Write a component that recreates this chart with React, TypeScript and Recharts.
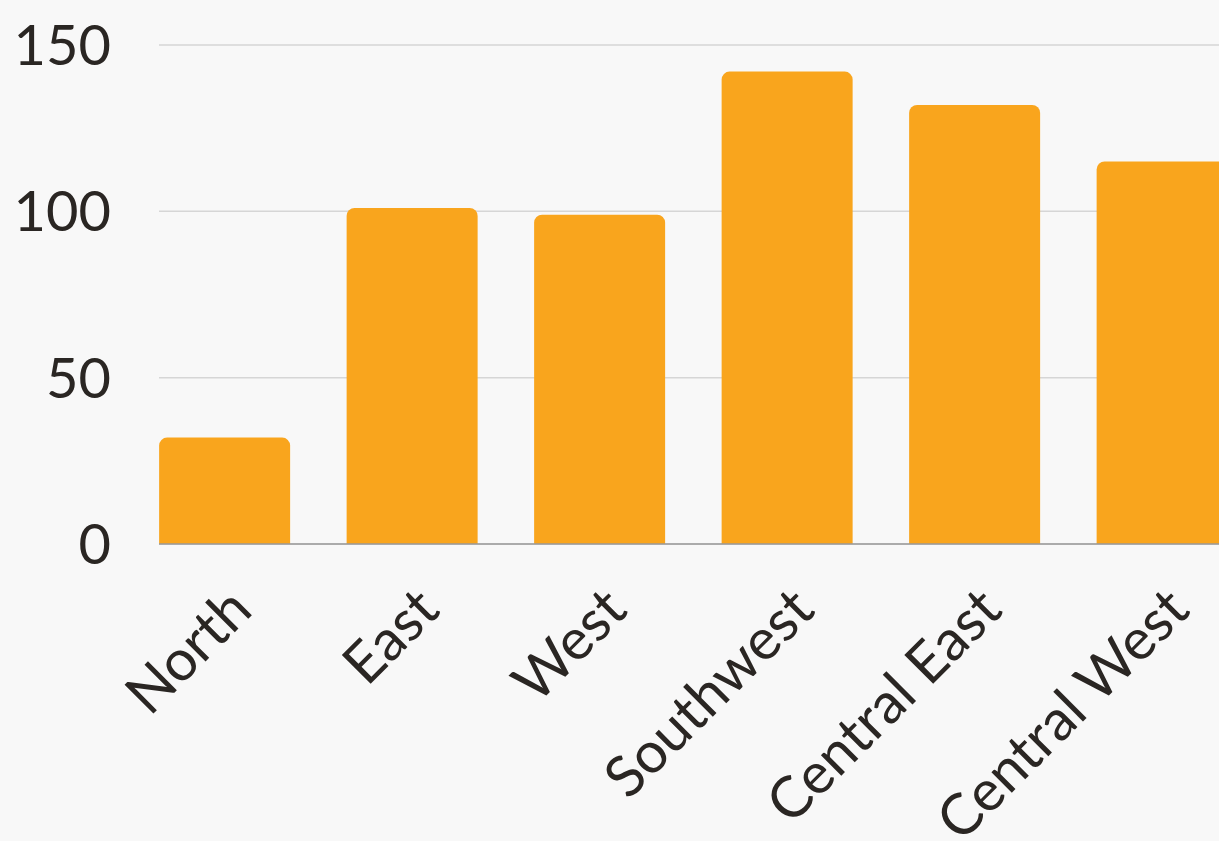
import { Bar, BarChart, CartesianGrid, XAxis, YAxis } from "recharts";

const regions = ["North", "East", "West", "Southwest", "Central East", "Central West"];
const sales = [32, 101, 99, 142, 132, 115];
const yTicks = [0, 50, 100, 150];

const data = regions.map((region, i) => ({ region, sales: sales[i] }));

const FONT = "Lato, sans-serif";
const INK = "#2a2623";

function RegionTick(props: any) {
  const { x, y, payload } = props;
  return (
    <g transform={`translate(${x + 1},${y})`}>
      <text
        x={0}
        y={0}
        dy="0.71em"
        textAnchor="end"
        transform="rotate(-45)"
        fill={INK}
        fontFamily={FONT}
        fontSize={57}
      >
        {payload.value}
      </text>
    </g>
  );
}

export default function App() {
  return (
    <div
      style={{
        position: "fixed",
        left: 0,
        top: 0,
        width: 1219,
        height: 841,
        overflow: "hidden",
        background: "#f8f8f8",
      }}
    >
      <BarChart
        width={1240}
        height={841}
        data={data}
        margin={{ top: 45, right: 12, bottom: 0, left: 0 }}
        barCategoryGap="15%"
      >
        <CartesianGrid vertical={false} stroke="#d6d6d6" strokeWidth={1.5} />
        <XAxis
          dataKey="region"
          interval={0}
          height={297}
          padding={{ left: -28, right: -28 }}
          axisLine={{ stroke: "#9a9a9a", strokeWidth: 1.5 }}
          tickLine={false}
          tickMargin={34}
          tick={<RegionTick />}
        />
        <YAxis
          width={159}
          domain={[0, 150]}
          ticks={yTicks}
          axisLine={false}
          tickLine={false}
          tickMargin={42}
          tick={{ fill: INK, fontFamily: FONT, fontSize: 56 }}
        />
        <Bar dataKey="sales" fill="#f9a51d" radius={[8, 8, 0, 0]} isAnimationActive={false} />
      </BarChart>
    </div>
  );
}
